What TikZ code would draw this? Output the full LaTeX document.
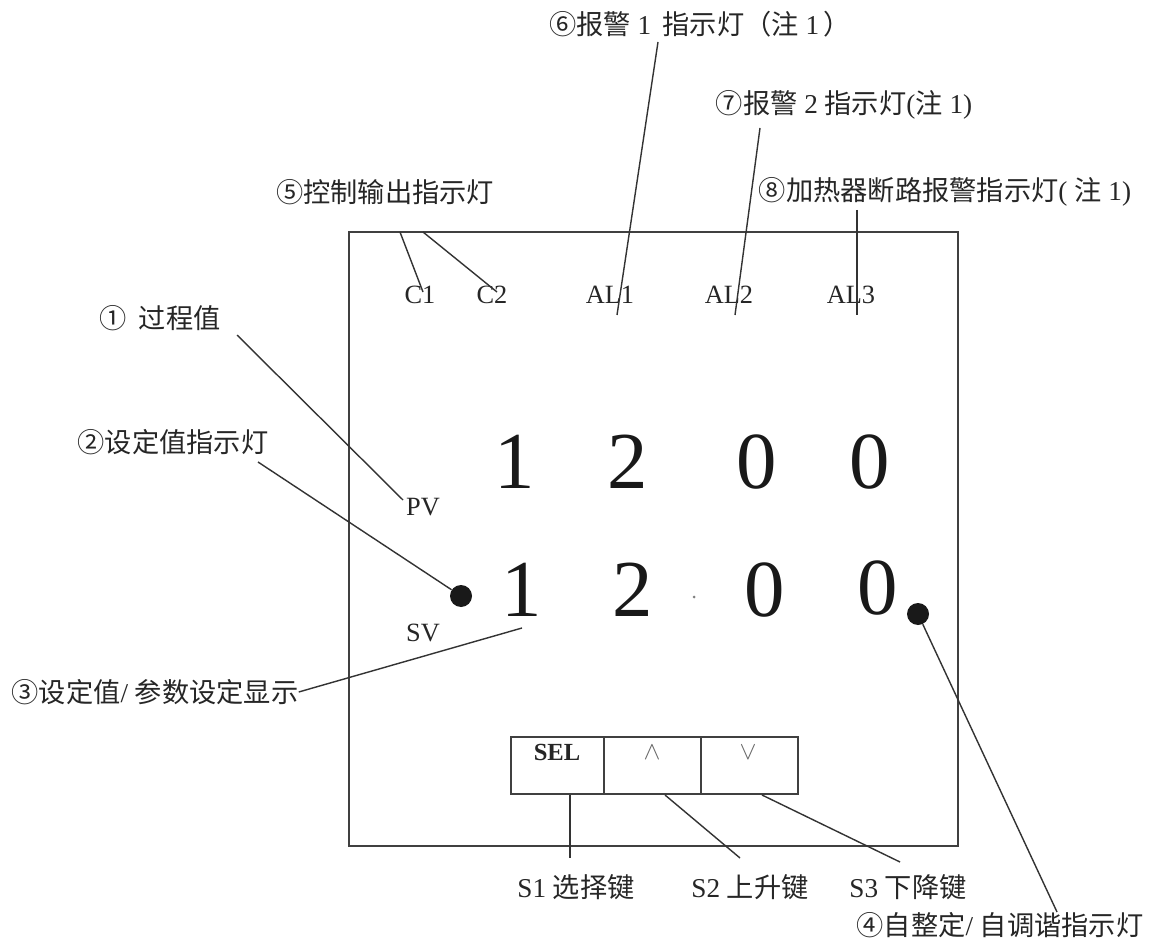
\documentclass[tikz,border=0pt]{standalone}
\usepackage{fontspec}
\setmainfont{Liberation Serif}
\newfontfamily\cjk{Noto Sans CJK SC}
\begin{document}
\begin{tikzpicture}[x=0.02cm,y=-0.02cm,
  lbl/.style={font=\fontsize{15.5}{17}\selectfont, inner sep=0pt, text=black!85},
  ind/.style={font=\fontsize{15}{17}\selectfont, inner sep=0pt, text=black!85},
  digit/.style={font=\fontsize{46}{50}\selectfont, inner sep=0pt, text=black!90},
  lead/.style={draw=black!80, line width=0.8pt},
  frame/.style={draw=black!75, line width=0.9pt},
  lamp/.style={circle, fill=black!90, minimum size=22*0.02cm, inner sep=0pt}]
\useasboundingbox (0,0) rectangle (1156,942);
\fill[white] (0,0) rectangle (1156,942);

% main frame and keys
\node[frame, minimum width=609*0.02cm, minimum height=614*0.02cm, inner sep=0pt, anchor=north west] (panel) at (348,231) {};
\node[frame, minimum width=93*0.02cm, minimum height=57*0.02cm, inner sep=0pt, anchor=north west] (ksel) at (510,736) {};
\node[frame, minimum width=97*0.02cm, minimum height=57*0.02cm, inner sep=0pt, anchor=north west] (kup) at (603,736) {};
\node[frame, minimum width=97*0.02cm, minimum height=57*0.02cm, inner sep=0pt, anchor=north west] (kdn) at (700,736) {};
\node[font=\bfseries\fontsize{14}{16}\selectfont, text=black!85, inner sep=0pt] (tsel) at (557,752) {SEL};
\node[text=black!60, inner sep=0pt, font=\fontsize{14}{16}\selectfont] (tup) at (652,752) {$\wedge$};
\node[text=black!60, inner sep=0pt, font=\fontsize{14}{16}\selectfont] (tdn) at (748,752) {$\vee$};

% indicator names
\node[ind] (c1) at (420,295) {C1};
\node[ind] (c2) at (492,295) {C2};
\node[ind] (al1) at (610,295) {AL1};
\node[ind] (al2) at (729,295) {AL2};
\node[ind] (al3) at (851,295) {AL3};
\node[ind] (pv) at (423,507) {PV};
\node[ind] (sv) at (423,633) {SV};

% digits
\node[digit] (p1) at (515,462) {1};
\node[digit] (p2) at (628,462) {2};
\node[digit] (p3) at (757,462) {0};
\node[digit] (p4) at (870,462) {0};
\node[digit] (s1) at (522,590) {1};
\node[digit] (s2) at (633,590) {2};
\node[digit] (s3) at (765,590) {0};
\node[digit] (s4) at (878,588) {0};
\node[circle, fill=black!50, minimum size=3*0.02cm, inner sep=0pt] (dp) at (694,597) {};

% lamps
\node[lamp] (lsv) at (461,596) {};
\node[lamp] (lat) at (918,614) {};

% labels
\node[lbl] (n6) at (700,24) {{\cjk ⑥报警} 1\ \,{\cjk 指示灯（注} 1\,{\cjk ）}};
\node[lbl] (n7) at (844,105) {{\cjk ⑦报警} 2 {\cjk 指示灯}({\cjk 注} 1)};
\node[lbl] (n5) at (385,192) {{\cjk ⑤控制输出指示灯}};
\node[lbl] (n8) at (945,192) {{\cjk ⑧加热器断路报警指示灯}( {\cjk 注} 1)};
\node[lbl] (n1) at (160,318) {{\cjk ①}\hspace{7pt}{\cjk 过程值}};
\node[lbl] (n2) at (173,442) {{\cjk ②设定值指示灯}};
\node[lbl] (n3) at (155,692) {{\cjk ③设定值}/ {\cjk 参数设定显示}};
\node[lbl] (n4) at (1000,925) {{\cjk ④自整定}/ {\cjk 自调谐指示灯}};
\node[lbl] (k1) at (576,887) {S1 {\cjk 选择键}};
\node[lbl] (k2) at (750,887) {S2 {\cjk 上升键}};
\node[lbl] (k3) at (908,887) {S3 {\cjk 下降键}};

% leader end points
\coordinate (c1a) at (400,232);
\coordinate (c1b) at (423,292);
\coordinate (c2a) at (423,232);
\coordinate (c2b) at (497,292);
\coordinate (a1a) at (658,42);
\coordinate (a1b) at (617,315);
\coordinate (a2a) at (760,128);
\coordinate (a2b) at (735,315);
\coordinate (a3a) at (857,210);
\coordinate (a3b) at (857,315);
\coordinate (e1a) at (237,335);
\coordinate (e1b) at (403,500);
\coordinate (e2a) at (258,462);
\coordinate (e3b) at (522,628);
\coordinate (e4b) at (1057,912);
\coordinate (k1b) at (570,858);
\coordinate (k2a) at (665,795);
\coordinate (k2b) at (740,858);
\coordinate (k3a) at (762,795);
\coordinate (k3b) at (900,862);

\draw[lead] (c1a) -- (c1b);
\draw[lead] (c2a) -- (c2b);
\draw[lead] (a1a) -- (a1b);
\draw[lead] (a2a) -- (a2b);
\draw[lead] (a3a) -- (a3b);
\draw[lead] (e1a) -- (e1b);
\draw[lead] (e2a) -- (lsv);
\draw[lead] (n3.east) -- (e3b);
\draw[lead] (lat) -- (e4b);
\draw[lead] (ksel.south -| k1b) -- (k1b);
\draw[lead] (k2a) -- (k2b);
\draw[lead] (k3a) -- (k3b);
\end{tikzpicture}
\end{document}
